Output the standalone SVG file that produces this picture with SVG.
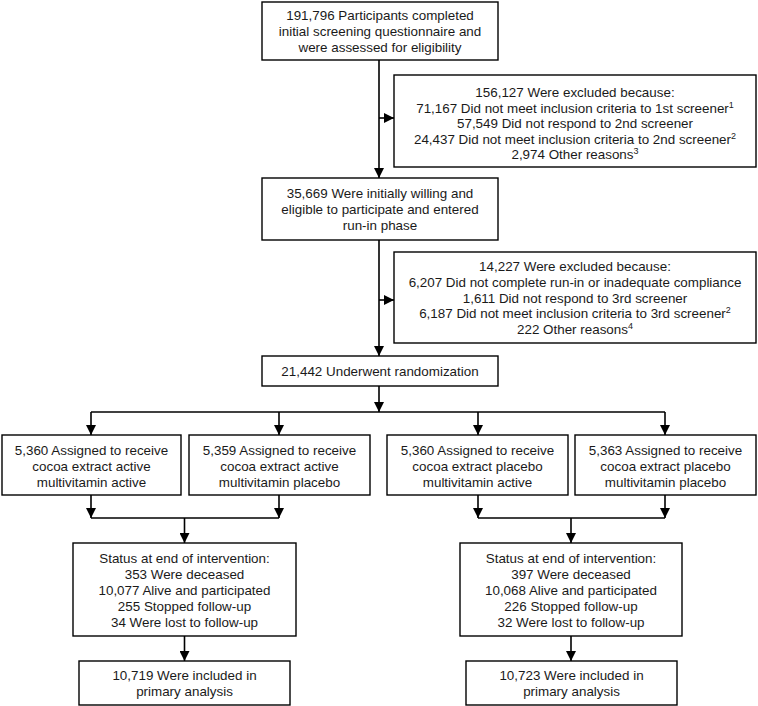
<svg xmlns="http://www.w3.org/2000/svg" width="758" height="706" viewBox="0 0 758 706">
<defs>
<marker id="arr" markerUnits="userSpaceOnUse" markerWidth="10" markerHeight="10" refX="10" refY="5" orient="auto">
<path d="M0,0 L10,5 L0,10 z" fill="#000"/>
</marker>
<style>
rect{fill:#fff;stroke:#000;stroke-width:1.4}
text{font-family:"Liberation Sans",Arial,sans-serif;font-size:13.4px;fill:#1a1a1a;text-anchor:middle}
.c line,.c path{stroke:#000;stroke-width:1.6;fill:none}
.a{marker-end:url(#arr)}
.s{font-size:9px}
</style>
</defs>
<rect width="758" height="706" style="fill:#fff;stroke:none"/>
<g class="c" id="connectors">
<line class="a" x1="379" y1="60" x2="379" y2="178"/>
<line class="a" x1="379" y1="118" x2="394" y2="118"/>
<line class="a" x1="379" y1="240" x2="379" y2="356"/>
<line class="a" x1="379" y1="300" x2="394" y2="300"/>
<line class="a" x1="379" y1="386" x2="379" y2="412"/>
<line x1="91" y1="412" x2="665" y2="412"/>
<line class="a" x1="91" y1="412" x2="91" y2="435"/>
<line class="a" x1="279" y1="412" x2="279" y2="435"/>
<line class="a" x1="478" y1="412" x2="478" y2="435"/>
<line class="a" x1="665" y1="412" x2="665" y2="435"/>
<line class="a" x1="91" y1="495" x2="91" y2="518"/>
<line class="a" x1="279" y1="495" x2="279" y2="518"/>
<line class="a" x1="478" y1="495" x2="478" y2="518"/>
<line class="a" x1="665" y1="495" x2="665" y2="518"/>
<line x1="91" y1="518" x2="279" y2="518"/>
<line x1="478" y1="518" x2="665" y2="518"/>
<line class="a" x1="184.5" y1="518" x2="184.5" y2="543"/>
<line class="a" x1="571" y1="518" x2="571" y2="543"/>
<line class="a" x1="184.5" y1="636" x2="184.5" y2="661"/>
<line class="a" x1="571" y1="636" x2="571" y2="661"/>
</g>
<g id="screened">
<rect x="262" y="2" width="236" height="58"/>
<text x="380" y="20">191,796 Participants completed</text>
<text x="380" y="36">initial screening questionnaire and</text>
<text x="380" y="52">were assessed for eligibility</text>
</g>
<g id="excluded1">
<rect x="394" y="75" width="362" height="92"/>
<text x="575" y="97">156,127 Were excluded because:</text>
<text x="575" y="112.6">71,167 Did not meet inclusion criteria to 1st screener<tspan class="s" dy="-5">1</tspan></text>
<text x="575" y="128.2">57,549 Did not respond to 2nd screener</text>
<text x="575" y="143.8">24,437 Did not meet inclusion criteria to 2nd screener<tspan class="s" dy="-5">2</tspan></text>
<text x="575" y="159.4">2,974 Other reasons<tspan class="s" dy="-5">3</tspan></text>
</g>
<g id="runin">
<rect x="262" y="178" width="236" height="62"/>
<text x="380" y="198">35,669 Were initially willing and</text>
<text x="380" y="214">eligible to participate and entered</text>
<text x="380" y="230">run-in phase</text>
</g>
<g id="excluded2">
<rect x="394" y="252" width="362" height="91"/>
<text x="575" y="271.3">14,227 Were excluded because:</text>
<text x="575" y="286.9">6,207 Did not complete run-in or inadequate compliance</text>
<text x="575" y="302.5">1,611 Did not respond to 3rd screener</text>
<text x="575" y="318.1">6,187 Did not meet inclusion criteria to 3rd screener<tspan class="s" dy="-5">2</tspan></text>
<text x="575" y="333.7">222 Other reasons<tspan class="s" dy="-5">4</tspan></text>
</g>
<g id="randomized">
<rect x="262" y="356" width="236" height="30"/>
<text x="380" y="376">21,442 Underwent randomization</text>
</g>
<g id="armA">
<rect x="2" y="435" width="179" height="60"/>
<text x="91.5" y="455">5,360 Assigned to receive</text>
<text x="91.5" y="471">cocoa extract active</text>
<text x="91.5" y="487">multivitamin active</text>
</g>
<g id="armB">
<rect x="189" y="435" width="181" height="60"/>
<text x="279.5" y="455">5,359 Assigned to receive</text>
<text x="279.5" y="471">cocoa extract active</text>
<text x="279.5" y="487">multivitamin placebo</text>
</g>
<g id="armC">
<rect x="387" y="435" width="181" height="60"/>
<text x="477.5" y="455">5,360 Assigned to receive</text>
<text x="477.5" y="471">cocoa extract placebo</text>
<text x="477.5" y="487">multivitamin active</text>
</g>
<g id="armD">
<rect x="575" y="435" width="181" height="60"/>
<text x="665.5" y="455">5,363 Assigned to receive</text>
<text x="665.5" y="471">cocoa extract placebo</text>
<text x="665.5" y="487">multivitamin placebo</text>
</g>
<g id="statusActive">
<rect x="73" y="543" width="223" height="93"/>
<text x="184.5" y="563">Status at end of intervention:</text>
<text x="184.5" y="579">353 Were deceased</text>
<text x="184.5" y="595">10,077 Alive and participated</text>
<text x="184.5" y="611">255 Stopped follow-up</text>
<text x="184.5" y="627">34 Were lost to follow-up</text>
</g>
<g id="statusPlacebo">
<rect x="460" y="543" width="222" height="93"/>
<text x="571" y="563">Status at end of intervention:</text>
<text x="571" y="579">397 Were deceased</text>
<text x="571" y="595">10,068 Alive and participated</text>
<text x="571" y="611">226 Stopped follow-up</text>
<text x="571" y="627">32 Were lost to follow-up</text>
</g>
<g id="analysisActive">
<rect x="79" y="661" width="211" height="44"/>
<text x="184.5" y="680">10,719 Were included in</text>
<text x="184.5" y="696">primary analysis</text>
</g>
<g id="analysisPlacebo">
<rect x="466" y="661" width="211" height="44"/>
<text x="571.5" y="680">10,723 Were included in</text>
<text x="571.5" y="696">primary analysis</text>
</g>
</svg>
